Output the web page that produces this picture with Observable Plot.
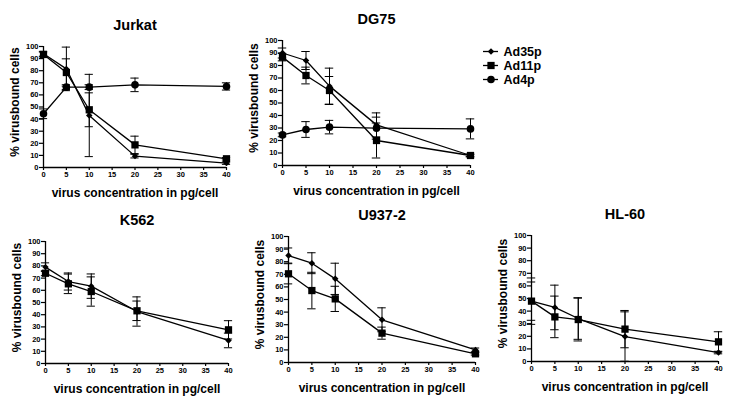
<!DOCTYPE html>
<html><head><meta charset="utf-8">
<script src="https://cdn.jsdelivr.net/npm/d3@7"></script>
<script src="https://cdn.jsdelivr.net/npm/@observablehq/plot@0.6"></script>
<style>
html,body{margin:0;padding:0;background:#fff;}
#chart{position:relative;width:732px;height:410px;overflow:hidden;background:#fff;}
#chart > svg{position:absolute;}
</style></head><body><div id="chart"></div>
<script>
// ---- data ----
const doses = [0, 5, 10, 20, 40];
const xTicks = [0, 5, 10, 15, 20, 25, 30, 35, 40];
const yTicks = [0, 10, 20, 30, 40, 50, 60, 70, 80, 90, 100];
const seriesNames = ["Ad35p", "Ad11p", "Ad4p"];
const cellLines = ["Jurkat", "DG75", "K562", "U937-2", "HL-60"];
const xLabel = "virus concentration in pg/cell";
const yLabel = "% virusbound cells";

const jurkatAd35p = [94, 81.5, 43, 9.4, 3.6];
const jurkatAd35pErr = [2, 18, 34, 1.5, 1];
const jurkatAd11p = [93.4, 78.5, 47.7, 18.7, 7.2];
const jurkatAd11pErr = [2, 11.3, 14, 7.2, 1];
const jurkatAd4p = [44.4, 66.4, 66.4, 68.3, 67];
const jurkatAd4pErr = [4, 2, 2, 5.6, 3];

const dg75Ad35p = [90, 84, 63.5, 32.5, 8];
const dg75Ad35pErr = [4, 7.2, 14.4, 9.6, 1];
const dg75Ad11p = [86.7, 72, 60, 20, 8];
const dg75Ad11pErr = [3, 6.7, 11.2, 14, 1];
const dg75Ad4p = [24.5, 28.8, 30.7, 29.9, 29.3];
const dg75Ad4pErr = [1.5, 6.3, 5.4, 8.8, 8];

const k562Ad35p = [79, 67.2, 63.4, 42.6, 18.9];
const k562Ad35pErr = [3.5, 7, 10, 12, 6];
const k562Ad11p = [74, 65.3, 59, 43.2, 27.6];
const k562Ad11pErr = [2, 8, 12, 8, 7.5];

const u937Ad35p = [84.9, 78.8, 66.4, 33.9, 10];
const u937Ad35pErr = [6, 8.3, 12.4, 9.5, 1.5];
const u937Ad11p = [70.4, 57.1, 50.5, 23.3, 6.9];
const u937Ad11pErr = [8, 14.5, 10, 4.8, 1];

const hl60Ad35p = [47.9, 42.9, 34.1, 19.8, 7.1];
const hl60Ad35pErr = [18.4, 17.7, 16.5, 19.6, 1];
const hl60Ad11p = [47.9, 35.4, 33.3, 25.7, 15.6];
const hl60Ad11pErr = [15.2, 16.5, 17, 14.8, 8];

const panelSeries = [
  [[jurkatAd35p, jurkatAd35pErr], [jurkatAd11p, jurkatAd11pErr], [jurkatAd4p, jurkatAd4pErr]],
  [[dg75Ad35p, dg75Ad35pErr], [dg75Ad11p, dg75Ad11pErr], [dg75Ad4p, dg75Ad4pErr]],
  [[k562Ad35p, k562Ad35pErr], [k562Ad11p, k562Ad11pErr]],
  [[u937Ad35p, u937Ad35pErr], [u937Ad11p, u937Ad11pErr]],
  [[hl60Ad35p, hl60Ad35pErr], [hl60Ad11p, hl60Ad11pErr]]
];

// ---- layout (pixels) ----
const layouts = [
  {L: 0,   T: 0,   w: 240, h: 200, x0: 43,  x40: 226, y100: 46,  y0: 167},
  {L: 240, T: 0,   w: 240, h: 200, x0: 282, x40: 470, y100: 40,  y0: 165},
  {L: 0,   T: 200, w: 240, h: 210, x0: 45,  x40: 228, y100: 241, y0: 363},
  {L: 240, T: 200, w: 245, h: 210, x0: 288, x40: 475, y100: 236, y0: 362},
  {L: 485, T: 200, w: 247, h: 210, x0: 531, x40: 718, y100: 235, y0: 361}
];
const FONT = "'Liberation Sans', Arial, Helvetica, sans-serif";
const symbolScale = {domain: seriesNames, range: ["diamond2", "square", "circle"]};
const dotR = {Ad35p: 2.9, Ad11p: 4.1, Ad4p: 3.8};

const chart = document.getElementById("chart");

cellLines.forEach((name, i) => {
  const lay = layouts[i];
  const rows = [];
  panelSeries[i].forEach(([vals, errs], s) => {
    doses.forEach((d, k) => rows.push({series: seriesNames[s], dose: d, pct: vals[k], err: errs[k]}));
  });
  const dots = seriesNames.map(s => Plot.dot(rows.filter(r => r.series === s), {
    x: "dose", y: "pct", symbol: "series", fill: "black", stroke: "none", r: dotR[s]
  }));
  const svg = Plot.plot({
    width: lay.w, height: lay.h,
    marginLeft: lay.x0 - lay.L, marginRight: lay.L + lay.w - lay.x40,
    marginTop: lay.y100 - lay.T, marginBottom: lay.T + lay.h - lay.y0,
    x: {domain: [0, 40], label: null},
    y: {domain: [0, 100], label: null},
    symbol: symbolScale,
    style: {fontFamily: FONT, fontSize: "7.5px", fontWeight: "bold", color: "black", background: "transparent", overflow: "visible"},
    marks: [
      Plot.axisX({ticks: xTicks, tickSize: 3, tickPadding: 1, label: null, strokeWidth: 1.2, fontWeight: "bold"}),
      Plot.axisY({ticks: yTicks, tickSize: 4, tickPadding: 1, label: null, strokeWidth: 1.2, fontWeight: "bold"}),
      Plot.ruleX([0], {strokeWidth: 1.3}),
      Plot.ruleY([0], {strokeWidth: 1.3}),
      Plot.ruleX(rows, {x: "dose", y1: d => Math.max(0, d.pct - d.err), y2: d => d.pct + d.err, strokeWidth: 1}),
      Plot.ruleY(rows, {y: d => d.pct + d.err, x1: d => d.dose - 0.9, x2: d => d.dose + 0.9, strokeWidth: 1}),
      Plot.ruleY(rows, {y: d => Math.max(0, d.pct - d.err), x1: d => d.dose - 0.9, x2: d => d.dose + 0.9, strokeWidth: 1}),
      Plot.line(rows, {x: "dose", y: "pct", z: "series", stroke: "black", strokeWidth: 1.3}),
      ...dots,
      Plot.text([name], {text: d => d, frameAnchor: "top", dy: -17, textAnchor: "middle", lineAnchor: "bottom", fontSize: 14.5, fontWeight: "bold", fill: "black"}),
      Plot.text([xLabel], {text: d => d, frameAnchor: "bottom", dy: 29, textAnchor: "middle", lineAnchor: "bottom", fontSize: 12, fontWeight: "bold", fill: "black"}),
      Plot.text([yLabel], {text: d => d, frameAnchor: "left", dx: -28.5, dy: -5, rotate: -90, textAnchor: "middle", lineAnchor: "middle", fontSize: 12, fontWeight: "bold", fill: "black"})
    ]
  });
  svg.style.left = lay.L + "px";
  svg.style.top = lay.T + "px";
  chart.appendChild(svg);
});

// ---- legend ----
const legend = Plot.plot({
  width: 110, height: 50, marginLeft: 13, marginRight: 82, marginTop: 10, marginBottom: 11,
  x: {domain: [0, 1], axis: null},
  y: {type: "point", domain: seriesNames, padding: 0, axis: null},
  symbol: symbolScale,
  style: {fontFamily: FONT, background: "transparent", overflow: "visible"},
  marks: [
    Plot.ruleY(seriesNames, {y: d => d, x1: () => 0, x2: () => 1, strokeWidth: 1.3}),
    ...seriesNames.map(s => Plot.dot([s], {x: () => 0.5, y: d => d, symbol: d => d, fill: "black", stroke: "none", r: dotR[s]})),
    Plot.text(seriesNames, {x: () => 1, y: d => d, text: d => d, dx: 5, textAnchor: "start", fontSize: 12.5, fontWeight: "bold", fill: "black"})
  ]
});
legend.style.left = "470px";
legend.style.top = "40px";
chart.appendChild(legend);
</script>
</body></html>
